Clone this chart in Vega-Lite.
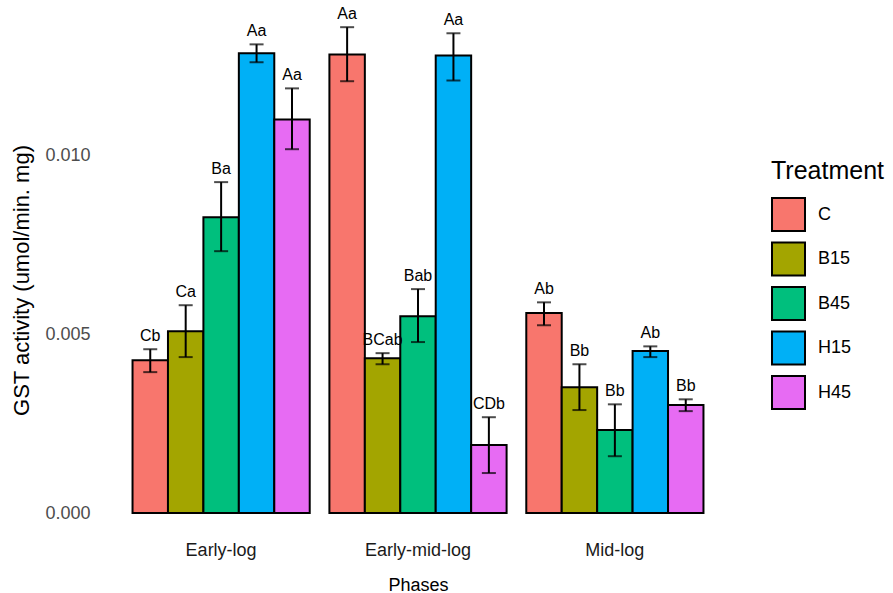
{
  "$schema": "https://vega.github.io/schema/vega-lite/v6.json",
  "width": 630,
  "height": 526,
  "autosize": {"type": "none"},
  "padding": {"left": 103, "top": 5, "right": 160, "bottom": 62},
  "background": "white",
  "config": {
    "view": {"stroke": null},
    "font": "Liberation Sans"
  },
  "data": {
    "values": [
      {"phase": "Early-log", "treatment": "C", "mean": 0.00427, "lo": 0.00394, "hi": 0.00458, "label": "Cb"},
      {"phase": "Early-log", "treatment": "B15", "mean": 0.00508, "lo": 0.00436, "hi": 0.00581, "label": "Ca"},
      {"phase": "Early-log", "treatment": "B45", "mean": 0.00827, "lo": 0.00732, "hi": 0.00925, "label": "Ba"},
      {"phase": "Early-log", "treatment": "H15", "mean": 0.01285, "lo": 0.0126, "hi": 0.0131, "label": "Aa"},
      {"phase": "Early-log", "treatment": "H45", "mean": 0.0110, "lo": 0.01017, "hi": 0.01187, "label": "Aa"},
      {"phase": "Early-mid-log", "treatment": "C", "mean": 0.01282, "lo": 0.01207, "hi": 0.01358, "label": "Aa"},
      {"phase": "Early-mid-log", "treatment": "B15", "mean": 0.00433, "lo": 0.00416, "hi": 0.00447, "label": "BCab"},
      {"phase": "Early-mid-log", "treatment": "B45", "mean": 0.0055, "lo": 0.00478, "hi": 0.00626, "label": "Bab"},
      {"phase": "Early-mid-log", "treatment": "H15", "mean": 0.01279, "lo": 0.01209, "hi": 0.01341, "label": "Aa"},
      {"phase": "Early-mid-log", "treatment": "H45", "mean": 0.0019, "lo": 0.00112, "hi": 0.00268, "label": "CDb"},
      {"phase": "Mid-log", "treatment": "C", "mean": 0.00559, "lo": 0.00525, "hi": 0.00589, "label": "Ab"},
      {"phase": "Mid-log", "treatment": "B15", "mean": 0.00352, "lo": 0.00288, "hi": 0.00416, "label": "Bb"},
      {"phase": "Mid-log", "treatment": "B45", "mean": 0.00232, "lo": 0.00159, "hi": 0.00304, "label": "Bb"},
      {"phase": "Mid-log", "treatment": "H15", "mean": 0.00453, "lo": 0.00436, "hi": 0.00466, "label": "Ab"},
      {"phase": "Mid-log", "treatment": "H45", "mean": 0.00302, "lo": 0.00285, "hi": 0.00318, "label": "Bb"}
    ]
  },
  "encoding": {
    "x": {
      "field": "phase",
      "type": "nominal",
      "sort": ["Early-log", "Early-mid-log", "Mid-log"],
      "scale": {"paddingInner": 0.1, "paddingOuter": 0.15},
      "axis": {
        "title": "Phases",
        "labelAngle": 0,
        "labelFontSize": 18,
        "labelColor": "#1a1a1a",
        "labelPadding": 10,
        "ticks": false,
        "domain": false,
        "grid": false,
        "titleFontSize": 18,
        "titleFontWeight": "normal",
        "titleColor": "#000000",
        "titleBaseline": "alphabetic",
        "titleY": 59
      }
    },
    "xOffset": {
      "field": "treatment",
      "type": "nominal",
      "sort": ["C", "B15", "B45", "H15", "H45"],
      "scale": {"paddingInner": 0, "paddingOuter": 0}
    }
  },
  "layer": [
    {
      "mark": {"type": "bar", "stroke": "#000000", "strokeWidth": 2},
      "encoding": {
        "y": {
          "field": "mean",
          "type": "quantitative",
          "scale": {"domain": [-0.0005, 0.0142], "nice": false, "zero": false},
          "axis": {
            "title": "GST activity (umol/min. mg)",
            "values": [0, 0.005, 0.01],
            "format": ".3f",
            "labelFontSize": 18,
            "labelColor": "#4d4d4d",
            "labelPadding": 13,
            "ticks": false,
            "domain": false,
            "grid": false,
            "titleFontSize": 22,
            "titleFontWeight": "normal",
            "titleColor": "#000000",
            "titleAngle": 270,
            "titleBaseline": "middle",
            "titleAlign": "center",
            "titleX": -82,
            "titleY": 275
          }
        },
        "color": {
          "field": "treatment",
          "type": "nominal",
          "sort": ["C", "B15", "B45", "H15", "H45"],
          "scale": {
            "domain": ["C", "B15", "B45", "H15", "H45"],
            "range": ["#F8766D", "#A3A500", "#00BF7D", "#00B0F6", "#E76BF3"]
          },
          "legend": {
            "title": "Treatment",
            "orient": "none",
            "legendX": 668,
            "legendY": 154,
            "titleFontSize": 25,
            "titleFontWeight": "normal",
            "titleColor": "#000000",
            "titlePadding": 13,
            "labelFontSize": 18,
            "labelColor": "#000000",
            "labelOffset": 12,
            "symbolType": "square",
            "symbolSize": 1089,
            "symbolStrokeColor": "#000000",
            "symbolStrokeWidth": 2,
            "symbolOpacity": 1,
            "rowPadding": 3.5
          }
        }
      }
    },
    {
      "mark": {"type": "rule", "color": "#000000", "strokeWidth": 2},
      "encoding": {
        "y": {"field": "lo", "type": "quantitative"},
        "y2": {"field": "hi"}
      }
    },
    {
      "mark": {"type": "tick", "color": "#000000", "thickness": 2, "size": 14, "orient": "horizontal"},
      "encoding": {
        "y": {"field": "lo", "type": "quantitative"}
      }
    },
    {
      "mark": {"type": "tick", "color": "#000000", "thickness": 2, "size": 14, "orient": "horizontal"},
      "encoding": {
        "y": {"field": "hi", "type": "quantitative"}
      }
    },
    {
      "mark": {"type": "text", "fontSize": 16, "color": "#000000", "baseline": "alphabetic", "dy": -8},
      "encoding": {
        "y": {"field": "hi", "type": "quantitative"},
        "text": {"field": "label"}
      }
    }
  ]
}
